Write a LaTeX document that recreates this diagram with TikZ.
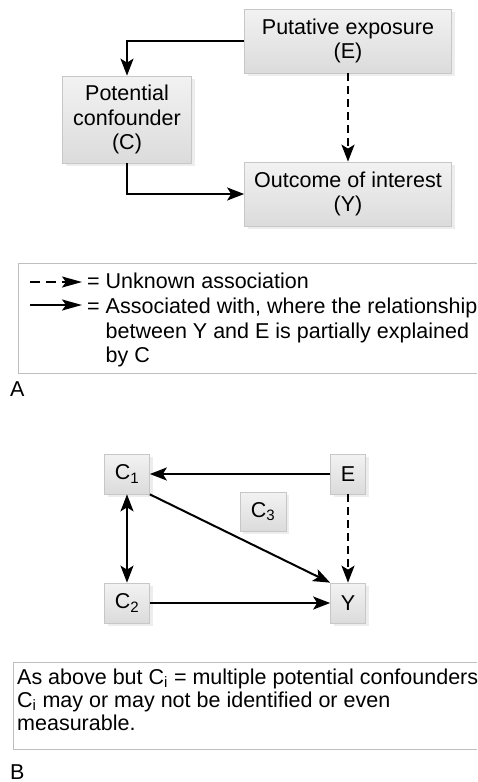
\documentclass[tikz,border=0pt]{standalone}
\usepackage{fontspec}
\setmainfont{Liberation Sans}
\usetikzlibrary{arrows.meta,shadows}
\begin{document}
\begin{tikzpicture}[x=1pt,y=-1pt,
  box/.style={draw=black!22, line width=0.7pt, top color=black!5, bottom color=black!14,
    align=center, inner sep=0pt, font=\fontsize{21.5}{24.5}\selectfont,
    drop shadow={shadow xshift=3pt, shadow yshift=-3pt, fill=black!7, opacity=1}},
  tip/.tip={Stealth[length=17pt,width=13pt,inset=4pt]},
  conn/.style={line width=2pt, -tip},
  dconn/.style={conn, dash pattern=on 8pt off 5pt},
  ltip/.tip={Stealth[length=20pt,width=11pt,inset=4pt]},
  lconn/.style={line width=2pt, -ltip},
  lbl/.style={font=\fontsize{21.5}{24}\selectfont, inner sep=0pt, anchor=base west},
  legend/.style={draw=black!25, line width=0.8pt}]
\useasboundingbox (0,0) rectangle (477,782);
% ---------- Part A ----------
\node[box, minimum width=207pt, minimum height=64pt] (E) at (348,41) {Putative exposure\\(E)};
\node[box, minimum width=129pt, minimum height=87pt] (C) at (127,119.5) {Potential\\confounder\\(C)};
\node[box, minimum width=207pt, minimum height=64pt] (Y) at (348,194) {Outcome of interest\\(Y)};
\draw[conn] (E.west) -| (C.north);
\draw[conn] (C.south) |- (Y.west);
\draw[dconn] (E.south) -- (Y.north);
% legend A
\draw[legend] (477,263) -- (18,263) -- (18,373) -- (477,373);
\coordinate (la1) at (30,282);
\coordinate (la2) at (82,282);
\coordinate (lb1) at (30,305);
\coordinate (lb2) at (82,305);
\draw[lconn, dash pattern=on 10pt off 6pt] (la1) -- (la2);
\draw[lconn] (lb1) -- (lb2);
\node[lbl] (t1) at (87,288) {= Unknown association};
\node[lbl] (t2) at (87,313) {= Associated with, where the relationship};
\node[lbl] (t3) at (87,338) {\phantom{= }between Y and E is partially explained};
\node[lbl] (t4) at (87,362) {\phantom{= }by C};
\node[lbl] (labA) at (10,396) {A};
% ---------- Part B ----------
\node[box, minimum width=45pt, minimum height=40pt] (C1) at (127,474) {C\textsubscript{1}};
\node[box, minimum width=35pt, minimum height=40pt] (EB) at (348,474) {E};
\node[box, minimum width=46pt, minimum height=39pt] (C3) at (263,511.5) {C\textsubscript{3}};
\node[box, minimum width=45pt, minimum height=40pt] (C2) at (127,603) {C\textsubscript{2}};
\node[box, minimum width=35pt, minimum height=40pt] (YB) at (348,603) {Y};
\draw[conn] (EB.west) -- (C1.east);
\draw[conn] (C1.south east) -- (YB.north west);
\draw[conn, tip-tip] (C1.south) -- (C2.north);
\draw[conn] (C2.east) -- (YB.west);
\draw[dconn] (EB.south) -- (YB.north);
% legend B
\draw[legend] (477,662) -- (13,662) -- (13,749) -- (477,749);
\node[lbl] (s1) at (17,684) {As above but C\textsubscript{i} = multiple potential confounders};
\node[lbl] (s2) at (17,707) {C\textsubscript{i} may or may not be identified or even};
\node[lbl] (s3) at (17,730) {measurable.};
\node[lbl] (labB) at (10,779) {B};
\end{tikzpicture}
\end{document}
